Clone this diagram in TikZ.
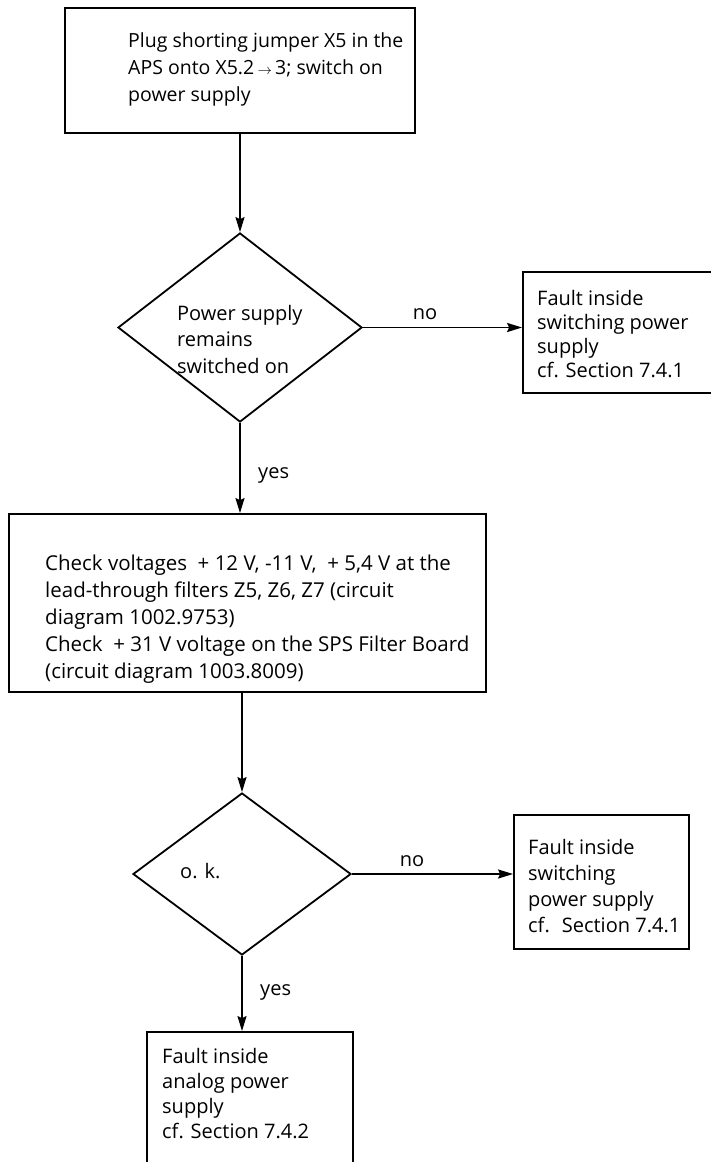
\documentclass[tikz,border=0pt]{standalone}
\usepackage{fontspec}
\setmainfont{Open Sans}
\usetikzlibrary{shapes.geometric,arrows.meta}
\begin{document}
\begin{tikzpicture}[x=1pt,y=-1pt,
  box/.style={draw, rectangle, line width=1.8pt, inner sep=0pt},
  dia/.style={draw, diamond, line width=1.8pt, inner sep=0pt},
  txt/.style={anchor=base west, align=left, inner sep=0pt},
  lbl/.style={anchor=base, inner sep=0pt},
  arr/.style={line width=1.8pt, -{Stealth[length=15pt,width=9pt,inset=2pt]}},
  font=\fontsize{20}{26}\selectfont]
\useasboundingbox (0,0) rectangle (711,1162);
% boxes and decisions
\node[box, minimum width=350pt, minimum height=125pt] (b1) at (240,70.5) {};
\node[dia, minimum width=244pt, minimum height=189pt] (d1) at (240,327.5) {};
\node[box, minimum width=197pt, minimum height=121pt] (b2) at (621.5,332.5) {};
\node[box, minimum width=477pt, minimum height=178pt] (b3) at (247.5,603) {};
\node[dia, minimum width=218pt, minimum height=162pt] (d2) at (242,874) {};
\node[box, minimum width=175pt, minimum height=134pt] (b4) at (601.5,882) {};
\node[box, minimum width=206pt, minimum height=143pt] (b5) at (250,1103.5) {};
% texts (anchored at the baseline of their last line)
\node[txt, font=\fontsize{19.5}{27}\selectfont] (t1) at (128,101)
  {Plug shorting jumper X5 in the\\APS onto X5.2\,{\fontsize{15}{15}\selectfont$\rightarrow$}\,3; switch on\\power supply};
\node[txt, font=\fontsize{20}{26.5}\selectfont] (td1) at (177,373)
  {Power supply\\remains\\switched on};
\node[txt, font=\fontsize{20}{24}\selectfont] (t2) at (537,377)
  {Fault inside\\switching power\\supply\\cf. Section 7.4.1};
\node[txt, font=\fontsize{20.5}{27}\selectfont] (t3) at (45,678)
  {Check voltages \ + 12 V, -11 V, \ + 5,4 V at the\\lead-through filters Z5, Z6, Z7 (circuit\\diagram 1002.9753)\\Check \ + 31 V voltage on the SPS Filter Board\\(circuit diagram 1003.8009)};
\node[txt] (td2) at (180,878) {o. k.};
\node[txt, font=\fontsize{20}{26}\selectfont] (t4) at (528,932)
  {Fault inside\\switching\\power supply\\cf. \ Section 7.4.1};
\node[txt, font=\fontsize{20}{25}\selectfont] (t5) at (162,1138)
  {Fault inside\\analog power\\supply\\cf. Section 7.4.2};
% connectors
\draw[arr] (b1.south) -- (d1.north);
\draw[arr] (d1.east) -- (d1.east -| b2.west);
\draw[arr] (d1.south) -- (d1.south |- b3.north);
\draw[arr] (d2.north |- b3.south) -- (d2.north);
\draw[arr] (d2.east) -- (d2.east -| b4.west);
\draw[arr] (d2.south) -- (d2.south |- b5.north);
% labels
\node[lbl] (no1) at (425,319) {no};
\node[txt] (yes1) at (258,478) {yes};
\node[lbl] (no2) at (412,866) {no};
\node[txt] (yes2) at (260,995) {yes};
\end{tikzpicture}
\end{document}
